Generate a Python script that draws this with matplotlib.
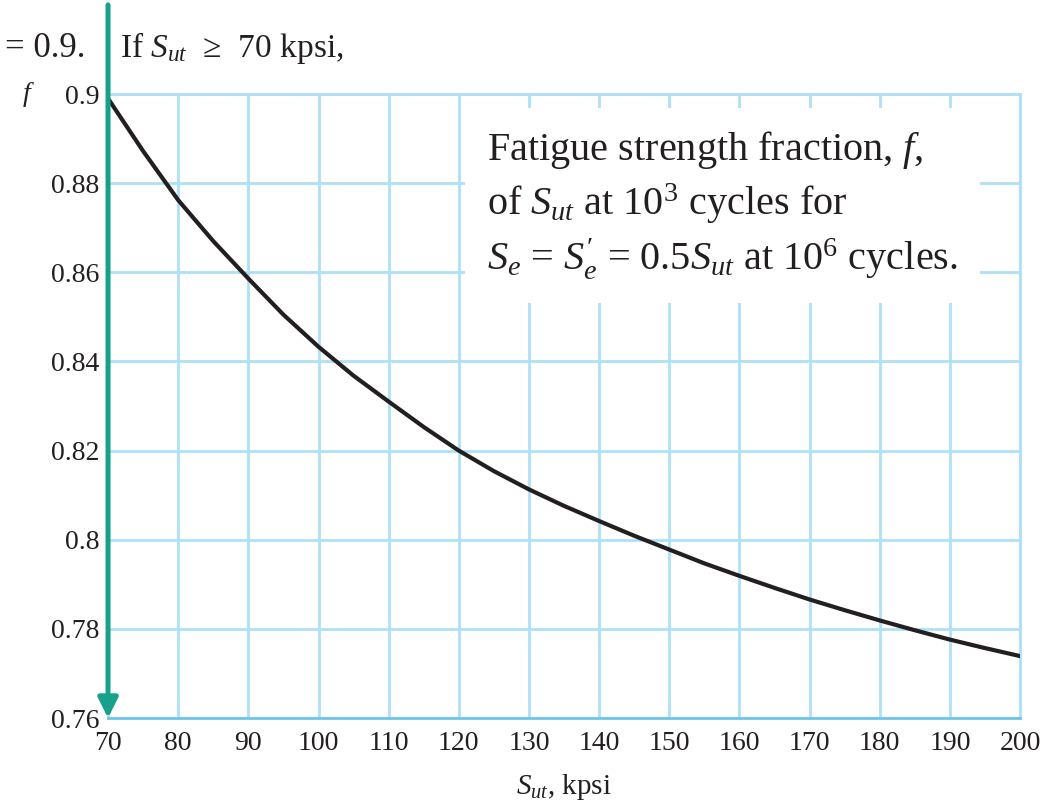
import numpy as np
import matplotlib
matplotlib.use("Agg")
import matplotlib.pyplot as plt

# values (every 5 kpsi)
sut = [70, 75, 80, 85, 90, 95, 100, 105, 110, 115, 120, 125, 130, 135,
       140, 145, 150, 155, 160, 165, 170, 175, 180, 185, 190, 195, 200]
frac = [0.899, 0.8872, 0.8762, 0.8670, 0.8586, 0.8505, 0.8433, 0.8368,
        0.8310, 0.8253, 0.8200, 0.8154, 0.8113, 0.8076, 0.8042, 0.8009,
        0.7978, 0.7947, 0.7919, 0.7892, 0.7866, 0.7842, 0.7819, 0.7797,
        0.7776, 0.7757, 0.7739]
xticks = list(range(70, 201, 10))
yticks = [0.76, 0.78, 0.8, 0.82, 0.84, 0.86, 0.88, 0.9]
ylabels = ["0.76", "0.78", "0.8", "0.82", "0.84", "0.86", "0.88", "0.9"]

plt.rcParams['font.family'] = ['Liberation Serif', 'DejaVu Serif']
plt.rcParams['mathtext.fontset'] = 'custom'
plt.rcParams['mathtext.rm'] = 'Liberation Serif'
plt.rcParams['mathtext.it'] = 'Liberation Serif:italic'

grid_c = '#aee0f7'
text_c = '#231f20'
teal = '#17a08c'

fig = plt.figure(figsize=(10.54, 8.05), dpi=100)
ax = fig.add_axes([0.1025, 0.108, 0.8653, 0.7752])

ax.set_xlim(70, 200)
ax.set_ylim(0.76, 0.9)
ax.set_xticks(xticks)
ax.set_yticks(yticks)
ax.set_yticklabels(ylabels)
ax.grid(True, color=grid_c, lw=2.0)
ax.set_axisbelow(True)
ax.tick_params(length=0, labelsize=20, colors=text_c)
ax.tick_params(axis='x', pad=9)
ax.tick_params(axis='y', pad=6)
for s in ['top', 'right', 'left']:
    ax.spines[s].set_color(grid_c)
    ax.spines[s].set_linewidth(2.0)
ax.spines['bottom'].set_color('#6cc6ee')
ax.spines['bottom'].set_linewidth(2.0)

ax.plot(sut, frac, color=text_c, lw=3.0, solid_capstyle='round', zorder=3)

ax.set_xlabel("$S_{ut}$, kpsi", fontsize=21, color=text_c, labelpad=12)

ax.text(-0.094, 0.9, "$f$", transform=ax.get_yaxis_transform(),
        fontsize=20, color=text_c, ha='left', va='center')

ax.text(0.4156, 0.822,
        "Fatigue strength fraction, $f$,\n"
        "of $S_{ut}$ at 10$^3$ cycles for\n"
        "$S_e$ = $S^{\\prime}_e$ = 0.5$S_{ut}$ at 10$^6$ cycles.",
        transform=ax.transAxes, fontsize=29, color=text_c, ha='left', va='center',
        linespacing=1.3, zorder=4,
        bbox=dict(boxstyle='square,pad=0.55', facecolor='white', edgecolor='none'))

fig.text(0.005, 0.940, "= 0.9.", fontsize=25, color=text_c, ha='left', va='center')
fig.text(0.114, 0.940, "If $S_{ut}$  ≥  70 kpsi,", fontsize=24, color=text_c,
         ha='left', va='center')

# teal arrow along the left edge
ax.annotate("", xy=(70, 0.76), xycoords='data',
            xytext=(70, 0.92), textcoords='data',
            arrowprops=dict(arrowstyle='-|>,head_length=1.2,head_width=0.6',
                            color=teal, lw=3.6, shrinkA=0, shrinkB=0),
            annotation_clip=False, zorder=5)

fig.savefig("out.png", dpi=100)
